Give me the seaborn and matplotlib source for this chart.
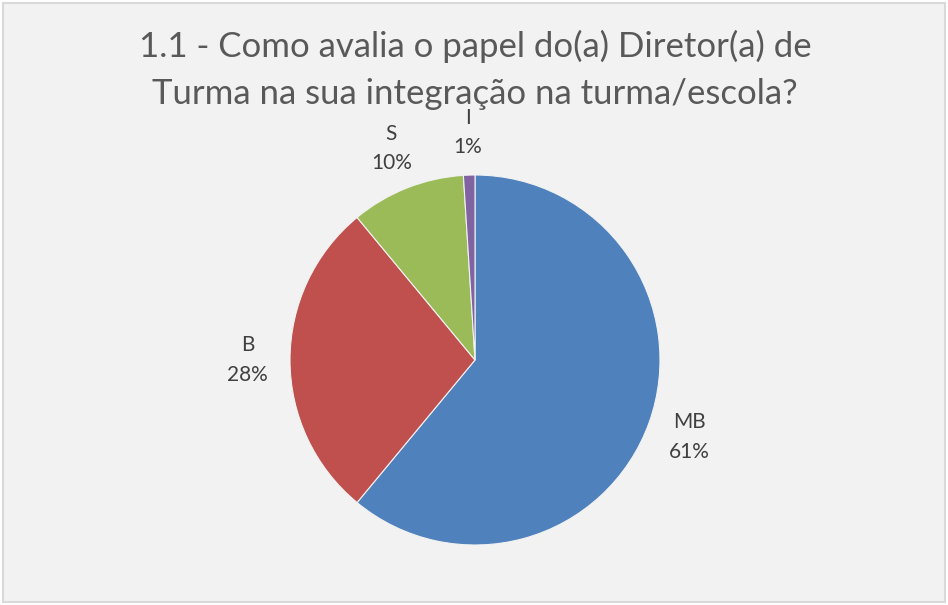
import matplotlib
matplotlib.use("Agg")
import matplotlib.pyplot as plt
import seaborn as sns
from matplotlib.patches import Rectangle

# --- Daten ---
categories = ["MB", "B", "S", "I"]
values = [61, 28, 10, 1]
colors = ["#4F81BD", "#C0504D", "#9BBB59", "#8064A2"]
title = "1.1 - Como avalia o papel do(a) Diretor(a) de\nTurma na sua integração na turma/escola?"

sns.set_theme(style="white")
plt.rcParams["font.family"] = ["Lato", "DejaVu Sans"]

W, H = 948, 605
fig = plt.figure(figsize=(W / 100, H / 100), dpi=100, facecolor="white")

# Hintergrund mit grauem Rahmen (hinter den Achsen)
fig.patches.append(Rectangle((3 / W, 3 / H), 1 - 6 / W, 1 - 6 / H, transform=fig.transFigure,
                             facecolor="#F2F2F2", edgecolor="#D9D9D9", linewidth=1.5, zorder=-5))

# Kreis: Mittelpunkt (475, 360) px, Radius 185 px
r = 185
cx, cy = 475, H - 360
side = 2.5 * r
ax = fig.add_axes([(cx - side / 2) / W, (cy - side / 2) / H, side / W, side / H])
ax.set_facecolor("none")

labels = [f"{c}\n{v}%" for c, v in zip(categories, values)]
wedges, texts = ax.pie(values, colors=colors, startangle=90, counterclock=False,
                       labels=labels, labeldistance=1.23,
                       wedgeprops=dict(edgecolor="#F2F2F2", linewidth=0.8),
                       textprops=dict(fontsize=15, color="#404040", linespacing=1.6))
for t in texts:
    t.set_horizontalalignment("center")
    t.set_verticalalignment("center")
ax.set_xlim(-1.25, 1.25)
ax.set_ylim(-1.25, 1.25)
ax.set_aspect("equal")
ax.axis("off")

fig.text(cx / W, 1 - 70 / H, title, ha="center", va="center", fontsize=25,
         color="#595959", linespacing=1.55)

fig.savefig("out.png", dpi=100, facecolor=fig.get_facecolor())
